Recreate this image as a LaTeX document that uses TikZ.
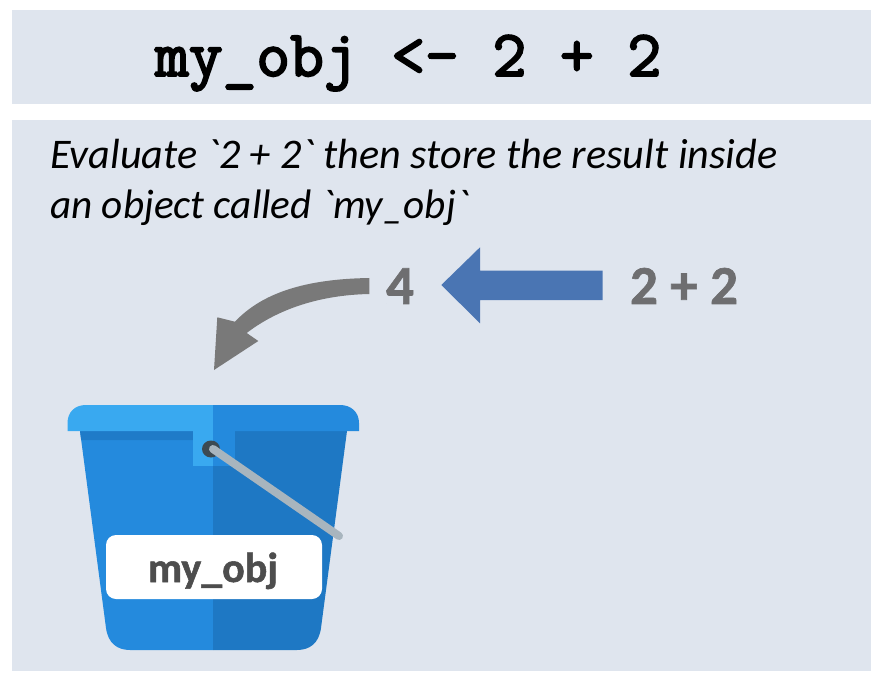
\documentclass[tikz,border=0pt]{standalone}
\usepackage{fontspec}
\setmainfont{Carlito}
\newfontfamily\notefont{Carlito}
\newfontfamily\heavyfont[FakeBold=1.2]{Carlito Bold}
\newfontfamily\codefont[FakeBold=3]{Latin Modern Mono}
\definecolor{panelbg}{HTML}{DFE5EE}
\definecolor{bucketL}{HTML}{248ADD}
\definecolor{bucketR}{HTML}{1E78C4}
\definecolor{rimL}{HTML}{39A9F0}
\definecolor{stripL}{HTML}{1F7BC8}
\definecolor{holeC}{HTML}{3C4A52}
\definecolor{handleC}{HTML}{A8B5BE}
\definecolor{txtgray}{HTML}{6E6E70}
\definecolor{arrgray}{HTML}{797979}
\definecolor{arrblue}{HTML}{4A75B3}
\definecolor{lblgray}{HTML}{4D4D4D}
\tikzset{
  panel/.style={fill=panelbg,draw=none},
  bigval/.style={font=\fontsize{55}{55}\selectfont\heavyfont,text=txtgray,inner sep=0pt},
  notetext/.style={anchor=base west,inner sep=0pt,font=\fontsize{42.2}{42.2}\selectfont\notefont\itshape},
}
\begin{document}
\begin{tikzpicture}[x=1pt,y=-1pt]
\useasboundingbox (0,0) rectangle (885,684);
\fill[white] (0,0) rectangle (885,684);
\fill[panel] (12,10) rectangle (871,104);
\fill[panel] (12,120) rectangle (871,671);
\node[anchor=base west,inner sep=0pt,font=\fontsize{65.5}{65.5}\selectfont\codefont] (code) at (155,76) {my\_obj <- 2 + 2};
\node[notetext] (l1) at (50,169) {Evaluate `2 + 2` then store the result inside};
\node[notetext,font=\fontsize{41.2}{41.2}\selectfont\notefont\itshape] (l2) at (50,219) {an object called `my\_obj`};
\node[bigval,anchor=base] (four) at (400,304) {4};
\node[bigval,anchor=base] (sum) at (684,304) {2 + 2};
% blue arrow
\fill[arrblue] (602.7,270.7) -- (480,270.7) -- (480,247.3) -- (441.3,285) -- (480,323.3) -- (480,300) -- (602.7,300) -- cycle;
% gray curved arrow
\fill[arrgray] (369.3,278) .. controls (305,279) and (262,293) .. (235,321.7)
  -- (217.3,317.3) -- (214,370) -- (258.3,341) -- (246.7,333)
  .. controls (278,309) and (320,295) .. (369.3,294) -- cycle;
% bucket body
\fill[bucketL] (80,431) -- (106,628) .. controls (108,643) and (117,650) .. (130,650) -- (213,650) -- (213,431) -- cycle;
\fill[bucketR] (347,431) -- (321,628) .. controls (319,643) and (310,650) .. (297,650) -- (213,650) -- (213,431) -- cycle;
\fill[stripL] (80,431) -- (193,431) -- (193,440) -- (81.2,440) -- cycle;
% rim
\fill[rimL] (67.5,431) -- (67.5,423) .. controls (67.5,412) and (75,405) .. (86,405) -- (213,405) -- (213,431) -- cycle;
\fill[bucketL] (359,431) -- (359,423) .. controls (359,412) and (351,405) .. (340,405) -- (213,405) -- (213,431) -- cycle;
% tab
\fill[rimL] (193,431) rectangle (213,466);
\fill[bucketL] (213,431) rectangle (234.7,466);
% handle
\fill[holeC] (211,449) ellipse (9 and 8.5);
\draw[handleC,line width=8pt,line cap=round] (213,449) -- (339,536);
% label
\node[fill=white,rounded corners=10pt,minimum width=216pt,minimum height=64pt,inner sep=0pt] (lbl) at (214,567) {};
\node[anchor=base,inner sep=0pt,font=\fontsize{42}{42}\selectfont\heavyfont,text=lblgray] (lbltxt) at (213,582) {my\_obj};
\end{tikzpicture}
\end{document}
